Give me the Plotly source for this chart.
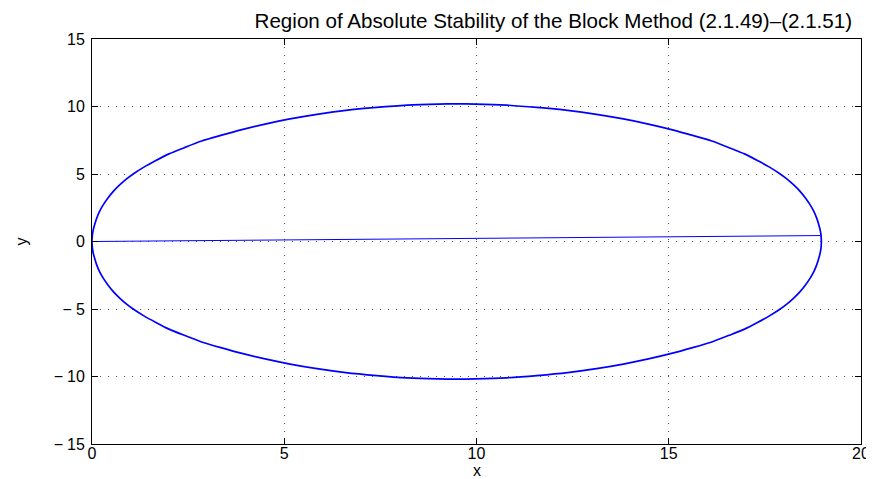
import plotly.graph_objects as go

# Stability boundary (upper half) (x, y)
boundary_x = [0.0, 0.01, 0.03, 0.07, 0.12, 0.2, 0.3, 0.42, 0.56, 0.72, 0.9, 1.1, 1.35,
              1.65, 2.0, 2.4, 2.85, 3.35, 3.9, 4.5, 5.15, 5.85, 6.6, 7.4, 8.2, 9.0, 9.48,
              9.97, 10.77, 11.57, 12.37, 13.12, 13.82, 14.47, 15.07, 15.62, 16.12, 16.57,
              16.97, 17.32, 17.62, 17.87, 18.07, 18.25, 18.41, 18.55, 18.67, 18.77, 18.85,
              18.9, 18.94, 18.96, 18.97]
boundary_y = [0.0, 0.47, 0.83, 1.26, 1.71, 2.25, 2.75, 3.24, 3.73, 4.19, 4.64, 5.06, 5.51,
              5.98, 6.49, 6.95, 7.44, 7.86, 8.29, 8.7, 9.08, 9.42, 9.71, 9.93, 10.1, 10.18, 10.2,
              10.18, 10.1, 9.93, 9.71, 9.42, 9.08, 8.7, 8.29, 7.86, 7.44, 6.95,
              6.49, 5.98, 5.51, 5.06, 4.64, 4.19, 3.73, 3.24, 2.75, 2.25, 1.71,
              1.26, 0.83, 0.47, 0.0]

# Near-horizontal segment inside the region
segment_x = [0.0, 18.97]
segment_y = [0.0, 0.44]

x_ticks = [0, 5, 10, 15, 20]
y_ticks = [-15, -10, -5, 0, 5, 10, 15]

title_text = "Region of Absolute Stability of the Block Method (2.1.49)\u2013(2.1.51)"
x_label = "x"
y_label = "y"

closed_x = boundary_x + boundary_x[::-1]
closed_y = boundary_y + [-v for v in boundary_y[::-1]]

fig = go.Figure()
fig.add_trace(go.Scatter(x=closed_x, y=closed_y, mode="lines",
                         line=dict(color="#0000FF", width=1.7, shape="spline", smoothing=0.6),
                         showlegend=False, hoverinfo="skip"))
fig.add_trace(go.Scatter(x=segment_x, y=segment_y, mode="lines",
                         line=dict(color="#0000FF", width=1),
                         showlegend=False, hoverinfo="skip"))

font_family = "Liberation Sans, Arial, Helvetica, sans-serif"
tick_font = dict(size=16, color="black", family=font_family)
axis_common = dict(showline=True, linecolor="black", linewidth=1, mirror="ticks",
                   ticks="inside", ticklen=6, tickcolor="black", tickwidth=1,
                   showgrid=True, gridcolor="#555555", gridwidth=1, griddash="1px,7px",
                   zeroline=False, tickfont=tick_font)

fig.update_xaxes(range=[0, 20], tickvals=x_ticks, ticktext=[str(v) for v in x_ticks],
                 ticklabelstandoff=-5, **axis_common)
fig.update_yaxes(range=[-15, 15], tickvals=y_ticks,
                 ticktext=[("\u2212\u2005" + str(-v)) if v < 0 else str(v) for v in y_ticks],
                 ticklabelstandoff=3, **axis_common)

fig.add_annotation(text=x_label, xref="paper", yref="paper", x=0.5, y=0,
                   xanchor="center", yanchor="bottom", yshift=-37, showarrow=False,
                   font=dict(size=16, color="black", family=font_family))
fig.add_annotation(text=y_label, xref="paper", yref="paper", x=0, y=0.5,
                   xanchor="center", yanchor="middle", xshift=-71, textangle=-90,
                   showarrow=False, font=dict(size=16, color="black", family=font_family))

fig.update_layout(
    width=874, height=479,
    margin=dict(l=84, r=16, t=31, b=43),
    paper_bgcolor="white", plot_bgcolor="white",
    title=dict(text=title_text, x=(84 + 0.21 * 774) / 874, xref="container", xanchor="left",
               y=1 - 13 / 479, yanchor="middle",
               font=dict(size=20.6, color="black", family=font_family)),
    font=dict(family=font_family, color="black"),
)

fig.write_html("out.html")
